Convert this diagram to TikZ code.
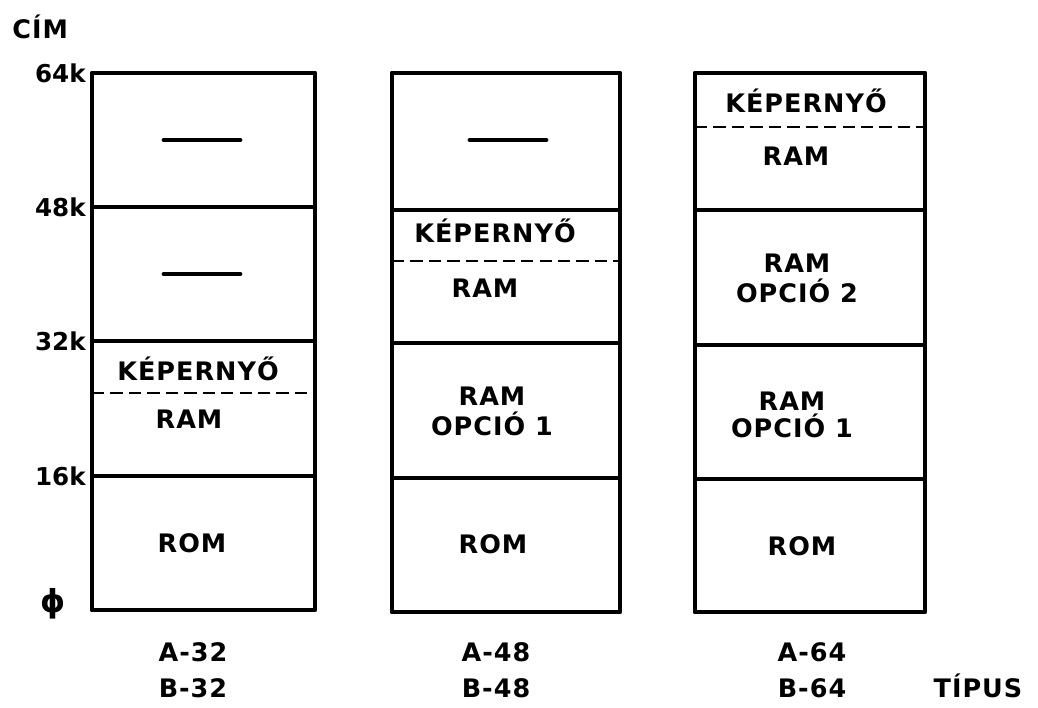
\documentclass[tikz,border=0pt]{standalone}
\usepackage{fontspec}
\setmainfont{DejaVu Sans}
\newfontfamily\hand[LetterSpace=4]{DejaVu Sans}
\usetikzlibrary{positioning}

\begin{document}
\begin{tikzpicture}[x=0.02cm, y=-0.02cm,
    mem/.style={line width=2.8pt, line join=round},
    split/.style={line width=1.1pt, dash pattern=on 7pt off 3.5pt},
    unused/.style={line width=2.8pt, line cap=round},
    txt/.style={font=\hand\bfseries\fontsize{14.5}{17}\selectfont, align=center, inner sep=0pt, anchor=base},
    typ/.style={txt, font=\hand\bfseries\fontsize{14.5}{20}\selectfont},
    addr/.style={font=\bfseries\fontsize{14}{16}\selectfont, anchor=east, inner sep=0pt}
  ]
    \useasboundingbox (0,0) rectangle (1038,707);

    % cimek
    \node[txt, anchor=base west] (cim) at (12,38) {CÍM};
    \node[addr] (a64) at (86,73)  {64k};
    \node[addr] (a48) at (86,207) {48k};
    \node[addr] (a32) at (86,341) {32k};
    \node[addr] (a16) at (86,476) {16k};
    \node[addr, font=\bfseries\fontsize{18}{18}\selectfont] (a0) at (66,604) {ϕ};

    % A-32
    \draw[mem] (92,73) rectangle (315,610);
    \draw[mem] (92,207) -- (315,207);
    \draw[mem] (92,341) -- (315,341);
    \draw[mem] (92,476) -- (315,476);
    \draw[split] (92,393) -- (315,393);
    \draw[unused] (164,140) -- (240,140);
    \draw[unused] (164,274) -- (240,274);
    \node[txt] (kep1) at (198,380) {KÉPERNYŐ};
    \node[txt] (ram1) at (189,428) {RAM};
    \node[txt] (rom1) at (192,552) {ROM};

    % A-48
    \draw[mem] (392,73) rectangle (620,612);
    \draw[mem] (392,210) -- (620,210);
    \draw[mem] (392,343) -- (620,343);
    \draw[mem] (392,478) -- (620,478);
    \draw[split] (392,261) -- (620,261);
    \draw[unused] (470,140) -- (546,140);
    \node[txt] (kep2) at (495,242) {KÉPERNYŐ};
    \node[txt] (ram2) at (485,297) {RAM};
    \node[txt] (opc21) at (492,435) {RAM\\OPCIÓ 1};
    \node[txt] (rom2) at (493,553) {ROM};

    % A-64
    \draw[mem] (695,73) rectangle (925,612);
    \draw[mem] (695,210) -- (925,210);
    \draw[mem] (695,345) -- (925,345);
    \draw[mem] (695,479) -- (925,479);
    \draw[split] (695,127) -- (925,127);
    \node[txt] (kep3) at (806,112) {KÉPERNYŐ};
    \node[txt] (ram3) at (796,165) {RAM};
    \node[txt] (opc32) at (797,302) {RAM\\OPCIÓ 2};
    \node[txt] (opc31) at (792,437) {RAM\\[-2pt]OPCIÓ 1};
    \node[txt] (rom3) at (802,555) {ROM};

    % tipusok
    \node[typ] (t32) at (193,697) {A-32\\B-32};
    \node[typ] (t48) at (496,697) {A-48\\B-48};
    \node[typ] (t64) at (812,697) {A-64\\B-64};
    \node[txt] (tipus) at (978,697) {TÍPUS};
  \end{tikzpicture}
\end{document}
